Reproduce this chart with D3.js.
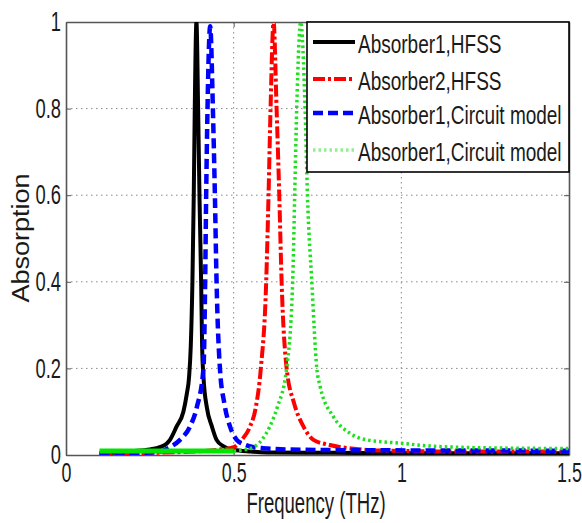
<!DOCTYPE html>
<html>
<head>
<meta charset="utf-8">
<script src="https://cdn.jsdelivr.net/npm/d3@7"></script>
<style>
  body { margin: 0; background: #fff; }
  text { font-family: "Liberation Sans", Arial, sans-serif; fill: #1a1a1a; }
</style>
</head>
<body>
<div id="chart"></div>
<script>
// data: [frequency THz, absorption]
var absorber1Hfss = [[0.10,0.005],[0.15,0.006],[0.20,0.009],[0.25,0.013],[0.28,0.018],[0.30,0.026],[0.31,0.035],[0.33,0.066],[0.35,0.10],[0.36,0.14],[0.367,0.18],[0.372,0.25],[0.377,0.40],[0.381,0.60],[0.384,0.80],[0.389,1.00],[0.394,0.80],[0.398,0.60],[0.403,0.40],[0.406,0.25],[0.41,0.18],[0.42,0.11],[0.435,0.066],[0.449,0.035],[0.47,0.02],[0.50,0.012],[0.55,0.008],[0.60,0.006],[0.80,0.005],[1.00,0.004],[1.50,0.004]];
var absorber2Hfss = [[0.10,0.003],[0.25,0.005],[0.35,0.007],[0.45,0.012],[0.50,0.018],[0.524,0.035],[0.549,0.066],[0.566,0.11],[0.581,0.20],[0.597,0.40],[0.604,0.60],[0.610,0.80],[0.619,1.00],[0.628,0.80],[0.636,0.60],[0.643,0.40],[0.658,0.20],[0.68,0.12],[0.708,0.066],[0.738,0.035],[0.787,0.023],[0.85,0.015],[0.95,0.010],[1.20,0.008],[1.50,0.008]];
var absorber1Circuit = [[0.10,0.003],[0.20,0.004],[0.28,0.008],[0.31,0.018],[0.34,0.035],[0.37,0.066],[0.39,0.11],[0.41,0.20],[0.415,0.40],[0.418,0.60],[0.422,0.80],[0.430,0.99],[0.438,0.80],[0.444,0.60],[0.449,0.40],[0.459,0.20],[0.472,0.12],[0.489,0.066],[0.509,0.035],[0.53,0.025],[0.56,0.018],[0.60,0.015],[0.70,0.012],[0.90,0.011],[1.50,0.010]];
var absorber1Circuit2 = [[0.10,0.009],[0.30,0.009],[0.50,0.009],[0.55,0.015],[0.584,0.035],[0.608,0.066],[0.63,0.11],[0.658,0.20],[0.676,0.40],[0.682,0.60],[0.688,0.80],[0.700,1.00],[0.713,0.80],[0.720,0.60],[0.733,0.40],[0.748,0.20],[0.758,0.158],[0.797,0.089],[0.847,0.05],[0.897,0.035],[1.00,0.027],[1.10,0.02],[1.30,0.016],[1.50,0.015]];

var seriesNames = ["Absorber1,HFSS", "Absorber2,HFSS", "Absorber1,Circuit model", "Absorber1,Circuit model"];
var freqTicks = [0, 0.5, 1, 1.5];
var absTicks = [0, 0.2, 0.4, 0.6, 0.8, 1];
var xLabel = "Frequency (THz)";
var yLabel = "Absorption";

var svgWidth = 582, svgHeight = 523;
var plot = { left: 66, right: 569, top: 22, bottom: 455 };

var svg = d3.select("#chart").append("svg")
    .attr("width", svgWidth)
    .attr("height", svgHeight);

var x = d3.scaleLinear().domain([0, 1.5]).range([plot.left, plot.right]);
var y = d3.scaleLinear().domain([0, 1]).range([plot.bottom, plot.top]);

// squeeze text sideways, the picture's fonts are narrow
function squash(sel, k) {
    sel.each(function() {
        var w = this.getComputedTextLength();
        d3.select(this).attr("textLength", w * k).attr("lengthAdjust", "spacingAndGlyphs");
    });
}

// grid
var grid = svg.append("g").attr("stroke", "#8a8a8a").attr("stroke-width", 1).attr("stroke-dasharray", "1.5,3.5");
grid.selectAll(".gy").data(absTicks.filter(d => d > 0 && d < 1)).enter().append("line")
    .attr("x1", plot.left).attr("x2", plot.right)
    .attr("y1", d => y(d)).attr("y2", d => y(d));
grid.selectAll(".gx").data(freqTicks.filter(d => d > 0 && d < 1.5)).enter().append("line")
    .attr("y1", plot.top).attr("y2", plot.bottom)
    .attr("x1", d => x(d)).attr("x2", d => x(d));

// axes with inward ticks
var xAxis = svg.append("g").attr("transform", `translate(0,${plot.bottom})`)
    .call(d3.axisBottom(x).tickValues(freqTicks).tickSizeInner(-5).tickSizeOuter(0).tickPadding(8).tickFormat(d3.format("")));
var yAxis = svg.append("g").attr("transform", `translate(${plot.left},0)`)
    .call(d3.axisLeft(y).tickValues(absTicks).tickSizeInner(-5).tickSizeOuter(0).tickPadding(5).tickFormat(d3.format("")));
svg.append("g").attr("transform", `translate(0,${plot.top})`)
    .call(d3.axisTop(x).tickValues(freqTicks).tickSizeInner(-5).tickSizeOuter(0).tickFormat(""));
svg.append("g").attr("transform", `translate(${plot.right},0)`)
    .call(d3.axisRight(y).tickValues(absTicks).tickSizeInner(-5).tickSizeOuter(0).tickFormat(""));

svg.selectAll(".domain").attr("stroke", "#555").attr("stroke-width", 1.6);
svg.selectAll(".tick line").attr("stroke", "#555");
svg.selectAll(".tick text").attr("font-size", 27).attr("fill", "#1a1a1a")
    .attr("font-family", "Liberation Sans, Arial, sans-serif");
squash(xAxis.selectAll(".tick text"), 0.66);
squash(yAxis.selectAll(".tick text"), 0.68);

// curves
var clip = svg.append("clipPath").attr("id", "clip").append("rect")
    .attr("x", plot.left).attr("y", plot.top)
    .attr("width", plot.right - plot.left).attr("height", plot.bottom - plot.top);

var line = d3.line().x(d => x(d[0])).y(d => y(d[1])).curve(d3.curveMonotoneX);
var curves = svg.append("g").attr("clip-path", "url(#clip)").attr("fill", "none");

var styles = [
    { color: "#000000", width: 4, dash: null },
    { color: "#ff0000", width: 4, dash: "12,3,3,3" },
    { color: "#0000ff", width: 4.5, dash: "10,5" },
    { color: "#1ee01e", width: 3.5, dash: "2.5,3" }
];

curves.append("path").datum(absorber1Hfss).attr("d", line)
    .attr("stroke", styles[0].color).attr("stroke-width", styles[0].width);
curves.append("path").datum(absorber2Hfss).attr("d", line)
    .attr("stroke", styles[1].color).attr("stroke-width", styles[1].width).attr("stroke-dasharray", styles[1].dash);
curves.append("path").datum(absorber1Circuit).attr("d", line)
    .attr("stroke", styles[2].color).attr("stroke-width", styles[2].width).attr("stroke-dasharray", styles[2].dash);
// green looks solid along the flat start, dotted after 0.5
curves.append("path").datum(absorber1Circuit2.filter(d => d[0] <= 0.5)).attr("d", line)
    .attr("stroke", "#00e600").attr("stroke-width", 5);
curves.append("path").datum(absorber1Circuit2.filter(d => d[0] >= 0.5)).attr("d", line)
    .attr("stroke", styles[3].color).attr("stroke-width", styles[3].width).attr("stroke-dasharray", styles[3].dash);

// legend
var legend = svg.append("g");
legend.append("rect")
    .attr("x", 307).attr("y", plot.top).attr("width", plot.right - 307).attr("height", 150)
    .attr("fill", "#fff").attr("stroke", "#000").attr("stroke-width", 1.6);
var rowY = [42, 79, 113, 150];
seriesNames.forEach(function(name, i) {
    var s = styles[i];
    legend.append("line")
        .attr("x1", 313).attr("x2", 355).attr("y1", rowY[i]).attr("y2", rowY[i])
        .attr("stroke", i == 3 ? "#8ef08e" : s.color).attr("stroke-width", s.width)
        .attr("stroke-dasharray", s.dash);
    var t = legend.append("text")
        .attr("x", 358).attr("y", rowY[i] + 11)
        .attr("font-size", 26)
        .text(name);
    squash(t, 0.73);
});

// axis titles
var xt = svg.append("text")
    .attr("x", 316).attr("y", 513)
    .attr("text-anchor", "middle")
    .attr("font-size", 29)
    .text(xLabel);
squash(xt, 0.64);

svg.append("text")
    .attr("transform", "translate(29,238) scale(0.88,1) rotate(-90)")
    .attr("text-anchor", "middle")
    .attr("font-size", 27)
    .text(yLabel);
</script>
</body>
</html>
